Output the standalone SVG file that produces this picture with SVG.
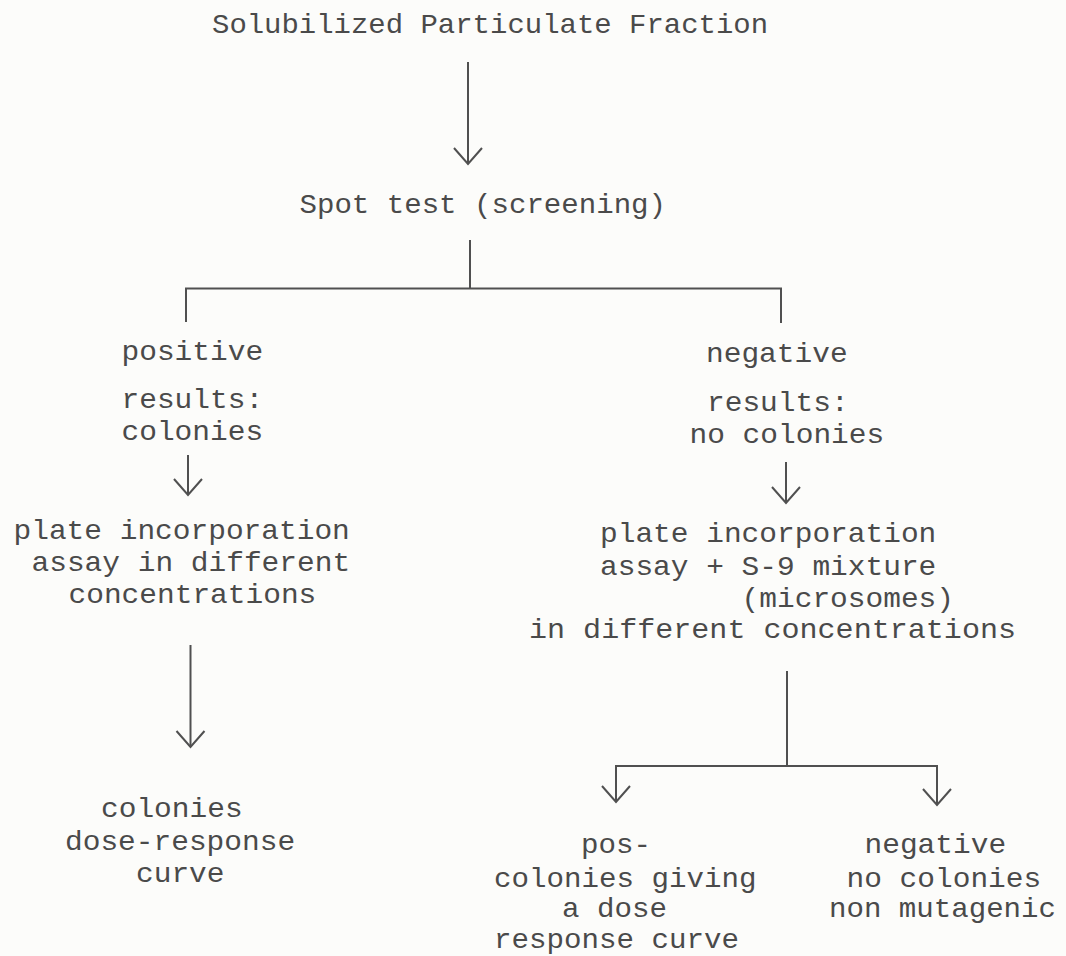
<svg xmlns="http://www.w3.org/2000/svg" width="1066" height="956" viewBox="0 0 1066 956">
<style>
  text { font-family: "Liberation Mono", "Courier New", monospace; font-size: 28px; fill: #4a4a4a; }
  .ln { stroke: #505050; stroke-width: 2; fill: none; }
</style>
<defs>
  <marker id="chev" markerUnits="userSpaceOnUse" orient="auto" refX="0" refY="0" markerWidth="40" markerHeight="40" overflow="visible">
    <path d="M-16,-14 L0,0 L-16,14" fill="none" stroke="#505050" stroke-width="2" stroke-linejoin="miter"/>
  </marker>
</defs>
<rect width="1066" height="956" fill="#fcfcfa"/>

<g id="connectors">
  <line class="ln" x1="468" y1="62" x2="468" y2="164" marker-end="url(#chev)"/>
  <line class="ln" x1="470" y1="240" x2="470" y2="288.5"/>
  <polyline class="ln" points="186,322 186,288.5 781,288.5 781,323"/>
  <line class="ln" x1="188" y1="455" x2="188" y2="495" marker-end="url(#chev)"/>
  <line class="ln" x1="786" y1="462" x2="786" y2="503" marker-end="url(#chev)"/>
  <line class="ln" x1="190.5" y1="645" x2="190.5" y2="747" marker-end="url(#chev)"/>
  <line class="ln" x1="787" y1="671" x2="787" y2="766"/>
  <polyline class="ln" points="616,801 616,766 937,766 937,804"/>
  <line class="ln" x1="616" y1="790" x2="616" y2="802" marker-end="url(#chev)"/>
  <line class="ln" x1="937" y1="793" x2="937" y2="805" marker-end="url(#chev)"/>
</g>

<g id="n-fraction">
  <text x="212" y="33" textLength="556" lengthAdjust="spacingAndGlyphs">Solubilized Particulate Fraction</text>
</g>
<g id="n-spot">
  <text x="299.5" y="213" textLength="366.5" lengthAdjust="spacingAndGlyphs">Spot test (screening)</text>
</g>
<g id="n-positive">
  <text x="121.5" y="359.5" textLength="141.6" lengthAdjust="spacingAndGlyphs">positive</text>
  <text x="121.5" y="407.5" textLength="141.6" lengthAdjust="spacingAndGlyphs">results:</text>
  <text x="121.5" y="439.5" textLength="141.6" lengthAdjust="spacingAndGlyphs">colonies</text>
</g>
<g id="n-negative">
  <text x="706" y="362" textLength="141.6" lengthAdjust="spacingAndGlyphs">negative</text>
  <text x="707" y="411" textLength="141.6" lengthAdjust="spacingAndGlyphs">results:</text>
  <text x="689.5" y="443" textLength="194.7" lengthAdjust="spacingAndGlyphs">no colonies</text>
</g>
<g id="n-plate-left">
  <text x="13.5" y="538.5" textLength="336.3" lengthAdjust="spacingAndGlyphs">plate incorporation</text>
  <text x="31.5" y="570.5" textLength="318.6" lengthAdjust="spacingAndGlyphs">assay in different</text>
  <text x="68.5" y="603" textLength="247.8" lengthAdjust="spacingAndGlyphs">concentrations</text>
</g>
<g id="n-plate-right">
  <text x="600" y="542" textLength="336.3" lengthAdjust="spacingAndGlyphs">plate incorporation</text>
  <text x="600" y="575" textLength="336.3" lengthAdjust="spacingAndGlyphs">assay + S-9 mixture</text>
  <text x="741.6" y="607" textLength="212.4" lengthAdjust="spacingAndGlyphs">(microsomes)</text>
  <text x="529" y="638" textLength="487" lengthAdjust="spacingAndGlyphs">in different concentrations</text>
</g>
<g id="n-dose-left">
  <text x="101" y="817" textLength="141.6" lengthAdjust="spacingAndGlyphs">colonies</text>
  <text x="65" y="849.5" textLength="230.1" lengthAdjust="spacingAndGlyphs">dose-response</text>
  <text x="136" y="882" textLength="88.5" lengthAdjust="spacingAndGlyphs">curve</text>
</g>
<g id="n-pos-result">
  <text x="581" y="853" textLength="70" lengthAdjust="spacingAndGlyphs">pos-</text>
  <text x="494" y="887" textLength="262.5" lengthAdjust="spacingAndGlyphs">colonies giving</text>
  <text x="562" y="917" textLength="105" lengthAdjust="spacingAndGlyphs">a dose</text>
  <text x="494" y="948" textLength="245" lengthAdjust="spacingAndGlyphs">response curve</text>
</g>
<g id="n-neg-result">
  <text x="864.5" y="853" textLength="141.6" lengthAdjust="spacingAndGlyphs">negative</text>
  <text x="846.5" y="886.5" textLength="194.7" lengthAdjust="spacingAndGlyphs">no colonies</text>
  <text x="829" y="917" textLength="227" lengthAdjust="spacingAndGlyphs">non mutagenic</text>
</g>
</svg>
